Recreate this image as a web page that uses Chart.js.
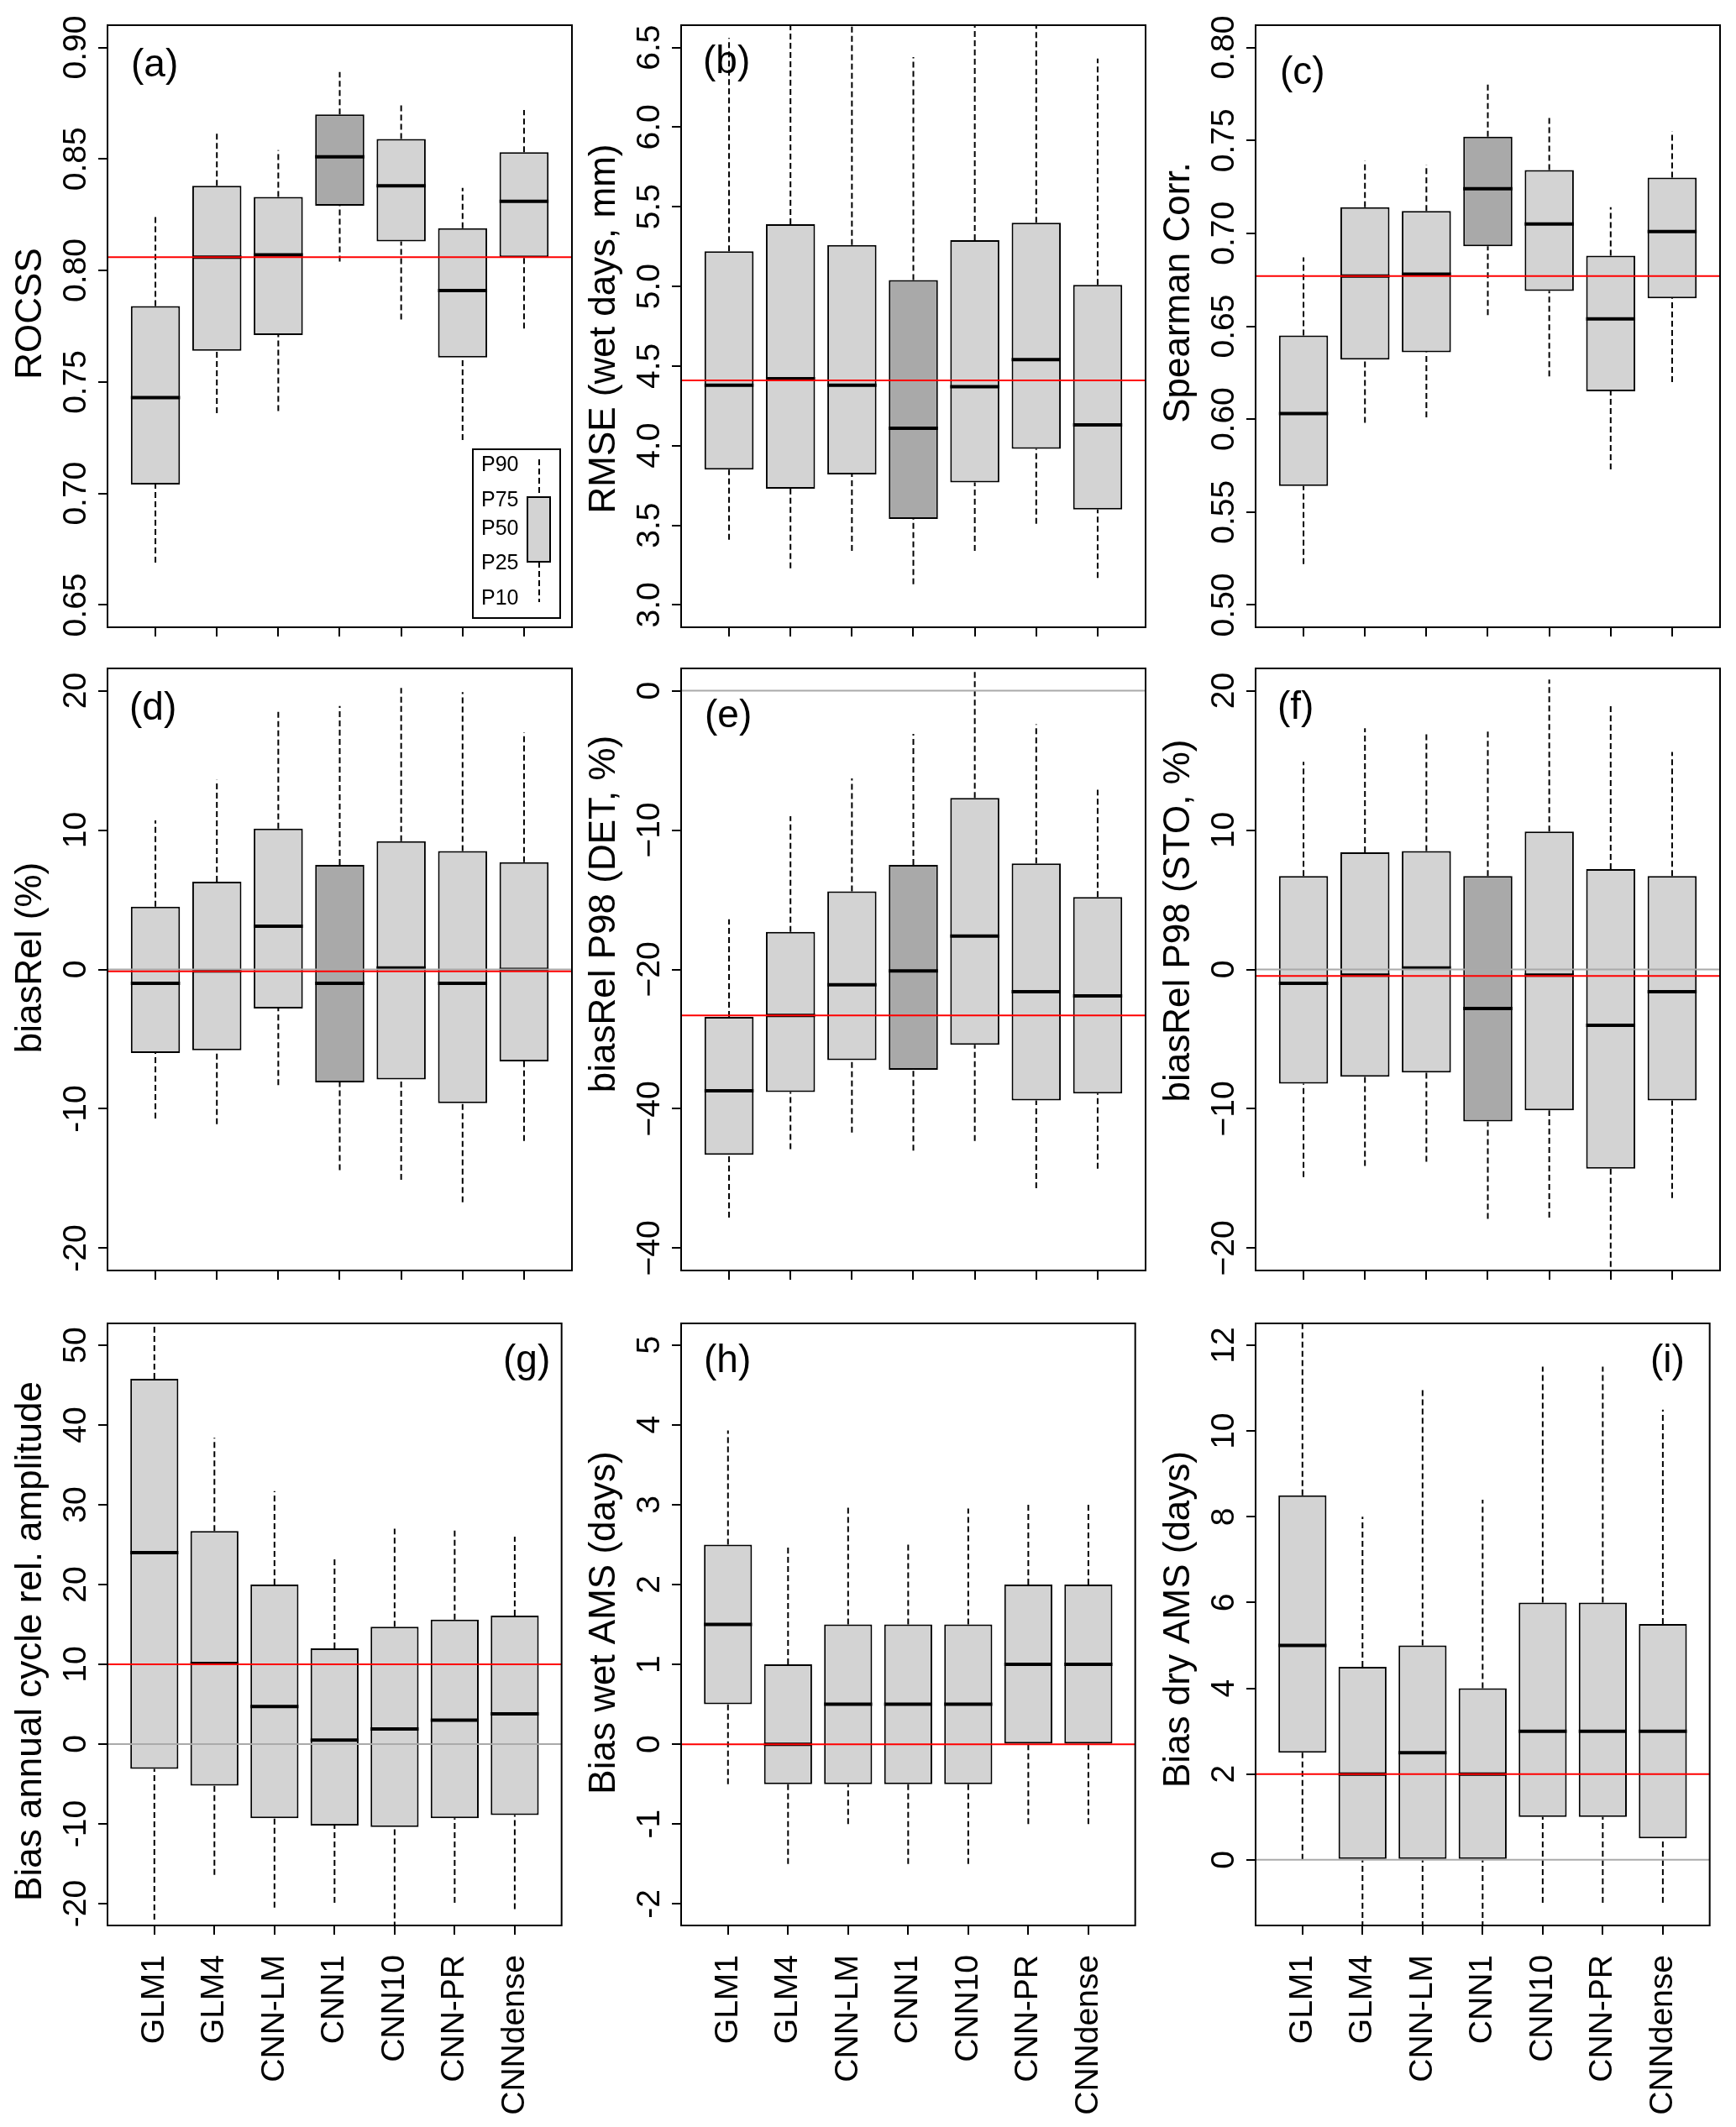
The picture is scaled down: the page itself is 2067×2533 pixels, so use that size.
<!DOCTYPE html>
<html lang="en">
<head>
  <meta charset="UTF-8" />
  <title>Validation boxplots</title>
  <style>
    * { margin: 0; padding: 0; box-sizing: border-box; }
    body { background: #fff; width: 2067px; height: 2533px; position: relative; overflow: hidden; }
    canvas { position: absolute; }
  </style>
</head>
<body>
  <canvas id="pa"></canvas><canvas id="pb"></canvas><canvas id="pc"></canvas>
  <canvas id="pd"></canvas><canvas id="pe"></canvas><canvas id="pf"></canvas>
  <canvas id="pg"></canvas><canvas id="ph"></canvas><canvas id="pi"></canvas>

  <script src="https://cdn.jsdelivr.net/npm/chart.js"></script>
  <script>
    const categories = ['GLM1', 'GLM4', 'CNN-LM', 'CNN1', 'CNN10', 'CNN-PR', 'CNNdense'];

    // (a) ROCSS
    const rocssP10 = [0.669, 0.736, 0.737, 0.804, 0.778, 0.724, 0.774];
    const rocssP25 = [0.704, 0.764, 0.771, 0.829, 0.813, 0.761, 0.806];
    const rocssP50 = [0.743, 0.806, 0.807, 0.851, 0.838, 0.791, 0.831];
    const rocssP75 = [0.784, 0.838, 0.833, 0.870, 0.859, 0.819, 0.853];
    const rocssP90 = [0.824, 0.862, 0.854, 0.889, 0.874, 0.837, 0.872];
    const rocssTicks = [0.65, 0.70, 0.75, 0.80, 0.85, 0.90];
    const rocssLabels = ['0.65', '0.70', '0.75', '0.80', '0.85', '0.90'];
    const rocssRef = 0.806;

    // (b) RMSE
    const rmseP10 = [3.41, 3.23, 3.34, 3.13, 3.34, 3.51, 3.17];
    const rmseP25 = [3.85, 3.73, 3.82, 3.54, 3.77, 3.98, 3.60];
    const rmseP50 = [4.38, 4.42, 4.38, 4.11, 4.37, 4.54, 4.13];
    const rmseP75 = [5.22, 5.39, 5.26, 5.04, 5.29, 5.40, 5.01];
    const rmseP90 = [6.56, 6.70, 6.70, 6.44, 6.70, 6.70, 6.43];
    const rmseTicks = [3.0, 3.5, 4.0, 4.5, 5.0, 5.5, 6.0, 6.5];
    const rmseLabels = ['3.0', '3.5', '4.0', '4.5', '5.0', '5.5', '6.0', '6.5'];
    const rmseRef = 4.41;

    // (c) Spearman
    const spearP10 = [0.522, 0.598, 0.601, 0.656, 0.623, 0.573, 0.620];
    const spearP25 = [0.564, 0.632, 0.636, 0.693, 0.669, 0.615, 0.665];
    const spearP50 = [0.603, 0.677, 0.678, 0.724, 0.705, 0.654, 0.701];
    const spearP75 = [0.645, 0.714, 0.712, 0.752, 0.734, 0.688, 0.730];
    const spearP90 = [0.687, 0.739, 0.737, 0.780, 0.763, 0.714, 0.755];
    const spearTicks = [0.50, 0.55, 0.60, 0.65, 0.70, 0.75, 0.80];
    const spearLabels = ['0.50', '0.55', '0.60', '0.65', '0.70', '0.75', '0.80'];
    const spearRef = 0.677;

    // (d) biasRel
    const biasP10 = [-10.7, -11.1, -8.3, -14.4, -15.1, -16.7, -12.3];
    const biasP25 = [-6.0, -5.8, -2.8, -8.1, -7.9, -9.6, -6.6];
    const biasP50 = [-1.0, -0.1, 3.1, -1.0, 0.1, -1.0, 0.0];
    const biasP75 = [4.5, 6.3, 10.1, 7.5, 9.2, 8.5, 7.7];
    const biasP90 = [10.7, 13.6, 18.5, 18.9, 20.2, 19.9, 17.0];
    const biasTicks = [-20, -10, 0, 10, 20];
    const biasLabels = ['-20', '-10', '0', '10', '20'];
    const biasRef = -0.13;

    // (e) biasRel P98 (DET)
    const detP10 = [-37.8, -32.9, -31.7, -33.0, -32.3, -35.7, -34.3];
    const detP25 = [-33.3, -28.8, -26.5, -27.2, -25.4, -29.4, -28.9];
    const detP50 = [-28.7, -23.3, -21.1, -20.1, -17.6, -21.6, -21.9];
    const detP75 = [-23.4, -17.3, -14.4, -12.5, -7.7, -12.4, -14.8];
    const detP90 = [-16.4, -9.0, -6.3, -3.1, 2.0, -2.4, -7.1];
    const detTicks = [0, -10, -20, -30, -40];
    const detLabels = ['0', '\u221210', '\u221220', '\u221240', '\u221240'];
    const detRef = -23.3;

    // (f) biasRel P98 (STO)
    const stoP10 = [-14.9, -14.1, -13.8, -17.9, -17.8, -22.0, -16.4];
    const stoP25 = [-8.2, -7.7, -7.4, -10.9, -10.1, -14.3, -9.4];
    const stoP50 = [-1.0, -0.4, 0.1, -2.8, -0.4, -4.0, -1.6];
    const stoP75 = [6.7, 8.4, 8.5, 6.7, 9.9, 7.2, 6.7];
    const stoP90 = [14.9, 17.3, 17.0, 17.3, 20.8, 19.0, 15.6];
    const stoTicks = [-20, -10, 0, 10, 20];
    const stoLabels = ['\u221220', '\u221210', '0', '10', '20'];
    const stoRef = -0.46;

    // (g) annual cycle amplitude
    const cycP10 = [-22.0, -16.4, -20.5, -19.9, -23.0, -19.9, -20.7];
    const cycP25 = [-3.1, -5.2, -9.3, -10.2, -10.4, -9.3, -8.9];
    const cycP50 = [24.0, 10.1, 4.7, 0.5, 1.9, 3.0, 3.8];
    const cycP75 = [45.8, 26.7, 20.0, 12.0, 14.7, 15.6, 16.1];
    const cycP90 = [55.0, 38.4, 31.7, 23.4, 27.0, 26.9, 26.0];
    const cycTicks = [-20, -10, 0, 10, 20, 30, 40, 50];
    const cycLabels = ['-20', '-10', '0', '10', '20', '30', '40', '50'];
    const cycRef = 10;

    // (h) wet AMS
    const wetP10 = [-0.5, -1.5, -1.0, -1.5, -1.5, -1.0, -1.0];
    const wetP25 = [0.5, -0.5, -0.5, -0.5, -0.5, 0, 0];
    const wetP50 = [1.5, 0, 0.5, 0.5, 0.5, 1, 1];
    const wetP75 = [2.5, 1, 1.5, 1.5, 1.5, 2, 2];
    const wetP90 = [3.93, 2.5, 3, 2.5, 2.95, 3, 3];
    const wetTicks = [-2, -1, 0, 1, 2, 3, 4, 5];
    const wetLabels = ['-2', '-1', '0', '1', '2', '3', '4', '5'];
    const wetRef = 0;

    // (i) dry AMS
    const dryP10 = [0, -2, -2, -2, -1, -1, -1];
    const dryP25 = [2.5, 0, 0, 0, 1, 1, 0.5];
    const dryP50 = [5, 2, 2.5, 2, 3, 3, 3];
    const dryP75 = [8.5, 4.5, 5, 4, 6, 6, 5.5];
    const dryP90 = [12.6, 8, 11, 8.4, 11.5, 11.5, 10.5];
    const dryTicks = [0, 2, 4, 6, 8, 10, 12];
    const dryLabels = ['0', '2', '4', '6', '8', '10', '12'];
    const dryRef = 2;

    const FONT = '"Liberation Sans", Arial, sans-serif';
    Chart.defaults.font.family = FONT;

    const COLX = [0, 683, 1367];
    const ROWS = [
      { top: 0, h: 766, xh: 16 },
      { top: 766, h: 780, xh: 16 },
      { top: 1546, h: 987, xh: 240 }
    ];
    const CW = 684, AXW = 128, AREA_W = 553, AREA_H = 717, TOP = 30;

    const panels = [
      { id: 'pa', col: 0, row: 0, letter: '(a)', title: 'ROCSS', q: [rocssP10, rocssP25, rocssP50, rocssP75, rocssP90], ticks: rocssTicks, labels: rocssLabels, min: 0.640, max: 0.910, ref: rocssRef, zero: false, dark: true, legend: true, dx: 28, dy: 61, tdy: -15 },
      { id: 'pb', col: 1, row: 0, letter: '(b)', title: 'RMSE (wet days, mm)', q: [rmseP10, rmseP25, rmseP50, rmseP75, rmseP90], ticks: rmseTicks, labels: rmseLabels, min: 2.86, max: 6.64, ref: rmseRef, zero: false, dark: true, dx: 26, dy: 57, tdy: 3 },
      { id: 'pc', col: 2, row: 0, letter: '(c)', title: 'Spearman Corr.', q: [spearP10, spearP25, spearP50, spearP75, spearP90], ticks: spearTicks, labels: spearLabels, min: 0.488, max: 0.812, ref: spearRef, zero: false, dark: true, dx: 29, dy: 70, tdy: -40 },
      { id: 'pd', col: 0, row: 1, letter: '(d)', title: 'biasRel (%)', q: [biasP10, biasP25, biasP50, biasP75, biasP90], ticks: biasTicks, labels: biasLabels, min: -21.6, max: 21.6, ref: biasRef, zero: true, dark: true, dx: 26, dy: 61, tdy: -14 },
      { id: 'pe', col: 1, row: 1, letter: '(e)', title: 'biasRel P98 (DET, %)', q: [detP10, detP25, detP50, detP75, detP90], ticks: detTicks, labels: detLabels, min: -41.6, max: 1.6, ref: detRef, zero: true, dark: true, dx: 28, dy: 70, tdy: -66 },
      { id: 'pf', col: 2, row: 1, letter: '(f)', title: 'biasRel P98 (STO, %)', q: [stoP10, stoP25, stoP50, stoP75, stoP90], ticks: stoTicks, labels: stoLabels, min: -21.6, max: 21.6, ref: stoRef, zero: true, dark: true, dx: 26, dy: 60, tdy: -58 },
      { id: 'pg', col: 0, row: 2, letter: '(g)', title: 'Bias annual cycle rel. amplitude', q: [cycP10, cycP25, cycP50, cycP75, cycP90], ticks: cycTicks, labels: cycLabels, min: -22.74, max: 52.74, ref: cycRef, zero: true, dark: false, dx: 471, dy: 58, tdy: 20 },
      { id: 'ph', col: 1, row: 2, letter: '(h)', title: 'Bias wet AMS (days)', q: [wetP10, wetP25, wetP50, wetP75, wetP90], ticks: wetTicks, labels: wetLabels, min: -2.27, max: 5.27, ref: wetRef, zero: false, dark: false, dx: 27, dy: 58, tdy: -2 },
      { id: 'pi', col: 2, row: 2, letter: '(i)', title: 'Bias dry AMS (days)', q: [dryP10, dryP25, dryP50, dryP75, dryP90], ticks: dryTicks, labels: dryLabels, min: -1.53, max: 12.51, ref: dryRef, zero: true, dark: false, dx: 470, dy: 58, tdy: -6 }
    ];

    const XMIN = 0.22, XMAX = 7.78;

    function drawLegend(ctx, a) {
      const w = 104, h = 201;
      const L = a.right - 14 - w, T = a.bottom - 11 - h;
      ctx.fillStyle = '#fff';
      ctx.fillRect(L, T, w, h);
      ctx.lineWidth = 2;
      ctx.strokeStyle = '#000';
      ctx.strokeRect(L, T, w, h);
      ctx.font = '25px ' + FONT;
      ctx.fillStyle = '#000';
      ctx.textAlign = 'left';
      ctx.textBaseline = 'middle';
      [['P90', 19], ['P75', 61], ['P50', 95], ['P25', 136], ['P10', 178]].forEach(([t, y]) => ctx.fillText(t, L + 10, T + y));
      ctx.setLineDash([7, 4]);
      ctx.beginPath();
      ctx.moveTo(L + 79, T + 12); ctx.lineTo(L + 79, T + 57);
      ctx.moveTo(L + 79, T + 134); ctx.lineTo(L + 79, T + 182);
      ctx.stroke();
      ctx.setLineDash([]);
      ctx.fillStyle = '#d3d3d3';
      ctx.fillRect(L + 65, T + 57, 27, 77);
      ctx.strokeRect(L + 65, T + 57, 27, 77);
    }

    function rPlot(pn) {
      return {
        id: 'rPlot',
        afterDraw(chart) {
          const { ctx, chartArea: a, scales } = chart;
          ctx.save();
          ctx.strokeStyle = '#000';
          ctx.lineWidth = 2;
          ctx.strokeRect(a.left, a.top, a.right - a.left, a.bottom - a.top);

          ctx.fillStyle = '#000';
          ctx.textAlign = 'center';
          ctx.textBaseline = 'middle';
          ctx.font = '39px ' + FONT;
          pn.ticks.forEach((v, i) => {
            const y = scales.y.getPixelForValue(v);
            ctx.save();
            ctx.translate(a.left - 37, y);
            ctx.rotate(-Math.PI / 2);
            ctx.fillText(pn.labels[i], 0, 0);
            ctx.restore();
          });

          ctx.font = '44px ' + FONT;
          ctx.save();
          ctx.translate(a.left - 91, (a.top + a.bottom) / 2 + pn.tdy);
          ctx.rotate(-Math.PI / 2);
          ctx.fillText(pn.title, 0, 0);
          ctx.restore();

          ctx.font = '46px ' + FONT;
          ctx.textAlign = 'left';
          ctx.textBaseline = 'alphabetic';
          ctx.fillText(pn.letter, a.left + pn.dx, a.top + pn.dy);

          if (pn.legend) drawLegend(ctx, a);
          ctx.restore();
        }
      };
    }

    panels.forEach(pn => {
      const row = ROWS[pn.row];
      const cv = document.getElementById(pn.id);
      cv.width = CW;
      cv.height = row.h;
      cv.style.left = COLX[pn.col] + 'px';
      cv.style.top = row.top + 'px';

      const [p10, p25, p50, p75, p90] = pn.q;

      const boxes = categories.map((c, i) => ({ x: i + 1, y: [p25[i], p75[i]] }));
      const whiskers = [];
      const medians = [];
      categories.forEach((c, i) => {
        const x = i + 1;
        whiskers.push({ x, y: p10[i] }, { x, y: p25[i] }, { x, y: null }, { x, y: p75[i] }, { x, y: p90[i] }, { x, y: null });
        medians.push({ x: x - 0.4, y: p50[i] }, { x: x + 0.4, y: p50[i] }, { x, y: null });
      });

      const datasets = [
        {
          type: 'bar', data: boxes, order: 4,
          backgroundColor: categories.map((c, i) => (pn.dark && c === 'CNN1') ? '#a9a9a9' : '#d3d3d3'),
          borderColor: '#000', borderWidth: 2, borderSkipped: false,
          barPercentage: 0.8, categoryPercentage: 1.0, clip: 0
        },
        {
          type: 'line', data: whiskers, order: 3, borderColor: '#000', borderWidth: 2,
          borderDash: [7, 4], pointRadius: 0, spanGaps: false, clip: 0
        },
        {
          type: 'line', data: medians, order: 2, borderColor: '#000', borderWidth: 4,
          pointRadius: 0, spanGaps: false, clip: 0
        }
      ];
      if (pn.zero) {
        datasets.push({
          type: 'line', data: [{ x: XMIN, y: 0 }, { x: XMAX, y: 0 }], order: 1,
          borderColor: '#aaaaaa', borderWidth: 2, pointRadius: 0, clip: 0
        });
      }
      datasets.push({
        type: 'line', data: [{ x: XMIN, y: pn.ref }, { x: XMAX, y: pn.ref }], order: 0,
        borderColor: '#ff0000', borderWidth: 2, pointRadius: 0, clip: 0
      });

      const tickGrid = { display: true, drawOnChartArea: false, drawTicks: true, tickLength: 11, color: '#000', lineWidth: 2, offset: false };

      new Chart(cv.getContext('2d'), {
        type: 'bar',
        data: { datasets },
        options: {
          responsive: false,
          animation: false,
          layout: { padding: { left: 0, top: TOP, right: CW - AXW - AREA_W, bottom: row.h - TOP - AREA_H - row.xh } },
          plugins: { legend: { display: false }, tooltip: { enabled: false } },
          scales: {
            x: {
              type: 'linear', min: XMIN, max: XMAX, offset: false,
              afterBuildTicks: s => { s.ticks = categories.map((c, i) => ({ value: i + 1 })); },
              afterFit: s => { s.height = row.xh; },
              grid: tickGrid,
              border: { display: false },
              ticks: {
                display: pn.row === 2, autoSkip: false, minRotation: 90, maxRotation: 90,
                padding: 24, color: '#000', font: { size: 39, family: FONT },
                callback: v => categories[Math.round(v) - 1]
              }
            },
            y: {
              type: 'linear', min: pn.min, max: pn.max, beginAtZero: false,
              afterBuildTicks: s => { s.ticks = pn.ticks.map(v => ({ value: v })); },
              afterFit: s => { s.width = AXW; },
              grid: tickGrid,
              border: { display: false },
              ticks: { display: false }
            }
          }
        },
        plugins: [rPlot(pn)]
      });
    });
  </script>
</body>
</html>
